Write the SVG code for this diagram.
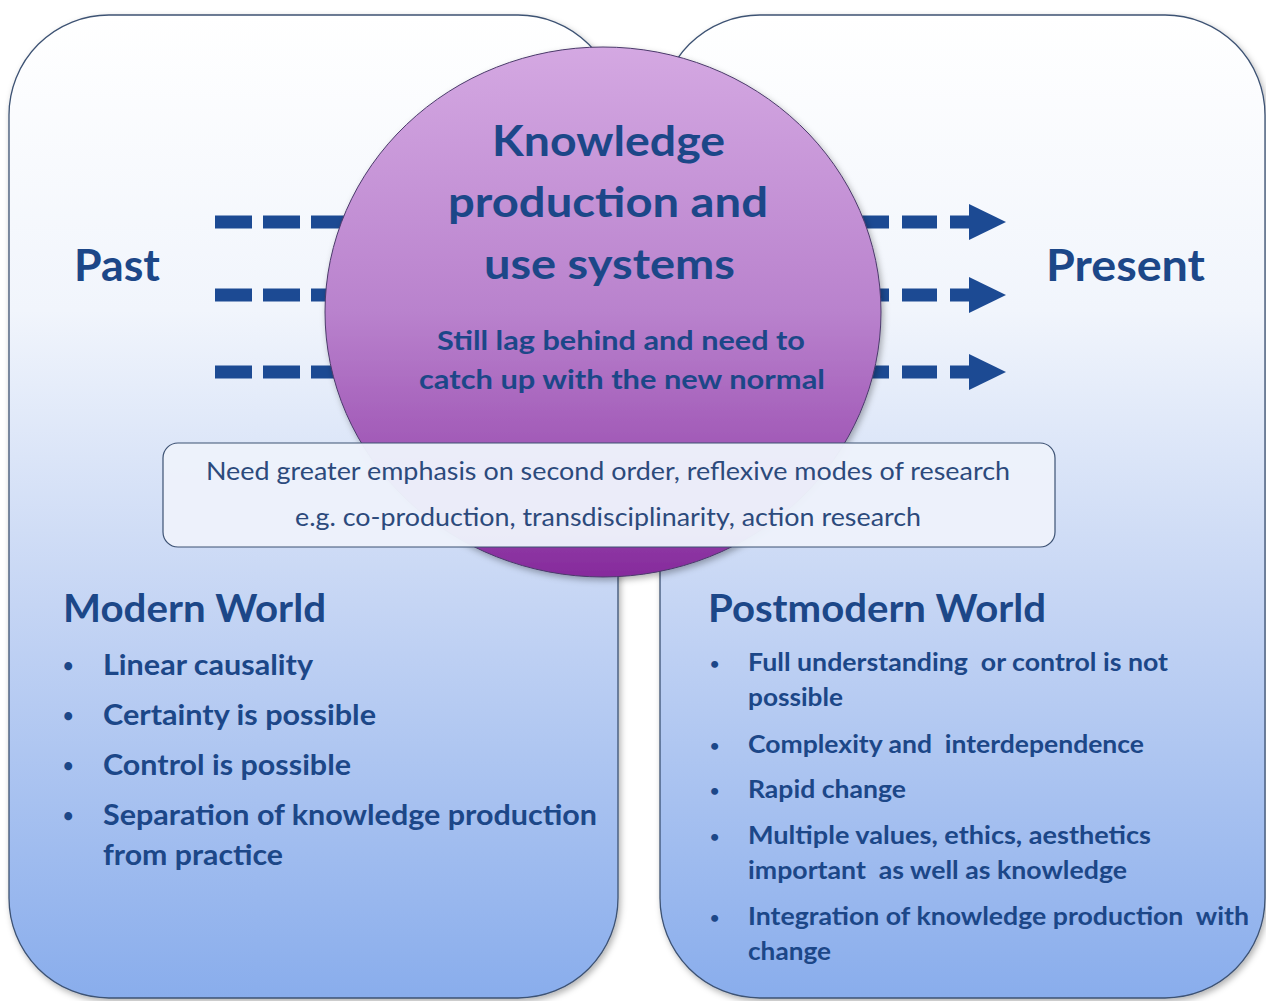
<svg xmlns="http://www.w3.org/2000/svg" width="1266" height="1001" viewBox="0 0 1266 1001">
<style>
  .panel { stroke: #3d5273; stroke-width: 1.3; }
  .t { font-family: Lato, "Liberation Sans", sans-serif; font-weight: bold; fill: #1c4788; }
  .box { font-family: Lato, "Liberation Sans", sans-serif; font-weight: normal; fill: #2c4a7c; font-size: 24.5px; }
  .dash { stroke: #1c4a93; stroke-width: 13; fill: none; }
  .head { fill: #1c4a93; }
  .bl { font-size: 18px; }
  .br { font-size: 16px; }
</style>
<defs>
  <linearGradient id="pg" x1="0" y1="0" x2="0" y2="1">
    <stop offset="0" stop-color="#ffffff"/>
    <stop offset="0.3" stop-color="#f1f5fc"/>
    <stop offset="0.6" stop-color="#c5d5f4"/>
    <stop offset="1" stop-color="#89adec"/>
  </linearGradient>
  <linearGradient id="cg" x1="0" y1="0" x2="0" y2="1">
    <stop offset="0" stop-color="#d4a8e2"/>
    <stop offset="0.5" stop-color="#b982cd"/>
    <stop offset="0.8" stop-color="#9d52b3"/>
    <stop offset="1" stop-color="#862a9c"/>
  </linearGradient>
  <filter id="sh" x="-10%" y="-10%" width="120%" height="120%">
    <feDropShadow dx="2" dy="3" stdDeviation="3" flood-color="#000" flood-opacity="0.3"/>
  </filter>
</defs>
<rect width="1266" height="1001" fill="#ffffff"/>

<g id="left-panel">
  <rect class="panel" x="9" y="15" width="609" height="983" rx="100" ry="100" fill="url(#pg)" filter="url(#sh)"/>
</g>
<g id="right-panel">
  <rect class="panel" x="660" y="15" width="605" height="983" rx="100" ry="100" fill="url(#pg)" filter="url(#sh)"/>
</g>

<g id="connectors">
  <line class="dash" x1="215" y1="222" x2="400" y2="222" stroke-dasharray="37 11"/>
  <line class="dash" x1="215" y1="295" x2="400" y2="295" stroke-dasharray="37 11"/>
  <line class="dash" x1="215" y1="372" x2="400" y2="372" stroke-dasharray="37 11"/>
  <line class="dash" x1="854" y1="222" x2="975" y2="222" stroke-dasharray="35 13"/>
  <line class="dash" x1="854" y1="295" x2="975" y2="295" stroke-dasharray="35 13"/>
  <line class="dash" x1="854" y1="372" x2="975" y2="372" stroke-dasharray="35 13"/>
  <polygon class="head" points="969,204 1006,222 969,240"/>
  <polygon class="head" points="969,277 1006,295 969,313"/>
  <polygon class="head" points="969,354 1006,372 969,390"/>
</g>

<g id="past">
  <text class="t" x="74" y="281" font-size="43" textLength="86" lengthAdjust="spacingAndGlyphs">Past</text>
</g>
<g id="present">
  <text class="t" x="1046" y="281" font-size="43" textLength="159" lengthAdjust="spacingAndGlyphs">Present</text>
</g>

<g id="circle">
  <ellipse cx="603" cy="312" rx="278" ry="265" fill="url(#cg)" stroke="#4a3a6a" stroke-width="1" filter="url(#sh)"/>
  <text class="t" x="608.5" y="156" font-size="42" text-anchor="middle" textLength="233" lengthAdjust="spacingAndGlyphs">Knowledge</text>
  <text class="t" x="608" y="217" font-size="42" text-anchor="middle" textLength="320" lengthAdjust="spacingAndGlyphs">production and</text>
  <text class="t" x="609.5" y="279" font-size="42" text-anchor="middle" textLength="251" lengthAdjust="spacingAndGlyphs">use systems</text>
  <text class="t" x="621" y="350" font-size="27" text-anchor="middle" textLength="368" lengthAdjust="spacingAndGlyphs">Still lag behind and need to</text>
  <text class="t" x="622" y="389" font-size="27" text-anchor="middle" textLength="406" lengthAdjust="spacingAndGlyphs">catch up with the new normal</text>
</g>

<g id="research-box">
  <rect x="163" y="443" width="892" height="104" rx="15" ry="15" fill="#edf2fb" fill-opacity="0.97" stroke="#3d5273" stroke-width="1.2"/>
  <text class="box" x="608" y="480" text-anchor="middle" textLength="804" lengthAdjust="spacingAndGlyphs">Need greater emphasis on second order, reflexive modes of research</text>
  <text class="box" x="608" y="526" text-anchor="middle" textLength="626" lengthAdjust="spacingAndGlyphs">e.g. co-production, transdisciplinarity, action research</text>
</g>

<g id="modern-world">
  <text class="t" x="63" y="622" font-size="39" textLength="263" lengthAdjust="spacingAndGlyphs">Modern World</text>
  <g font-size="29">
    <text class="t bl" x="63" y="672">•</text><text class="t" x="103" y="675" textLength="210" lengthAdjust="spacingAndGlyphs">Linear causality</text>
    <text class="t bl" x="63" y="722">•</text><text class="t" x="103" y="725" textLength="273" lengthAdjust="spacingAndGlyphs">Certainty is possible</text>
    <text class="t bl" x="63" y="772">•</text><text class="t" x="103" y="775" textLength="248" lengthAdjust="spacingAndGlyphs">Control is possible</text>
    <text class="t bl" x="63" y="822">•</text><text class="t" x="103" y="825" textLength="494" lengthAdjust="spacingAndGlyphs">Separation of knowledge production</text>
    <text class="t" x="103" y="865" textLength="180" lengthAdjust="spacingAndGlyphs">from practice</text>
  </g>
</g>

<g id="postmodern-world">
  <text class="t" x="708" y="622" font-size="39" textLength="338" lengthAdjust="spacingAndGlyphs">Postmodern World</text>
  <g font-size="25">
    <text class="t br" x="710" y="669">•</text><text class="t" x="748" y="671" xml:space="preserve" textLength="420" lengthAdjust="spacingAndGlyphs">Full understanding  or control is not</text>
    <text class="t" x="748" y="706" textLength="95" lengthAdjust="spacingAndGlyphs">possible</text>
    <text class="t br" x="710" y="751">•</text><text class="t" x="748" y="753" xml:space="preserve" textLength="396" lengthAdjust="spacingAndGlyphs">Complexity and  interdependence</text>
    <text class="t br" x="710" y="796">•</text><text class="t" x="748" y="798" textLength="158" lengthAdjust="spacingAndGlyphs">Rapid change</text>
    <text class="t br" x="710" y="842">•</text><text class="t" x="748" y="844" textLength="403" lengthAdjust="spacingAndGlyphs">Multiple values, ethics, aesthetics</text>
    <text class="t" x="748" y="879" xml:space="preserve" textLength="379" lengthAdjust="spacingAndGlyphs">important  as well as knowledge</text>
    <text class="t br" x="710" y="923">•</text><text class="t" x="748" y="925" xml:space="preserve" textLength="501" lengthAdjust="spacingAndGlyphs">Integration of knowledge production  with</text>
    <text class="t" x="748" y="960" textLength="83" lengthAdjust="spacingAndGlyphs">change</text>
  </g>
</g>
</svg>
